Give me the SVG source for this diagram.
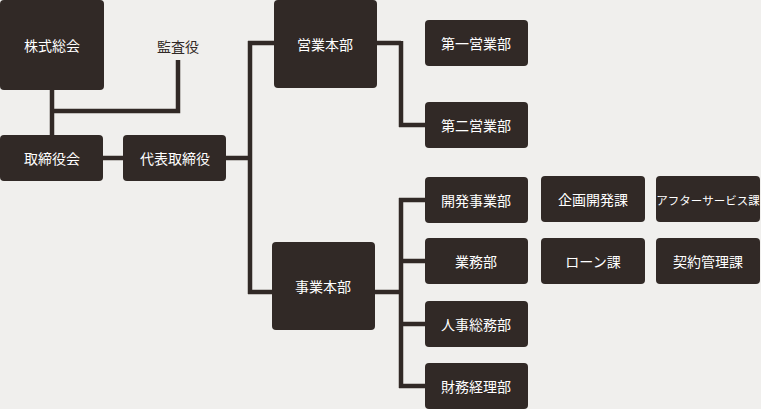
<svg xmlns="http://www.w3.org/2000/svg" width="761" height="409" viewBox="0 0 761 409">
<style>
.b{fill:#312926}
.t{fill:#fff;font-family:"Noto Sans CJK JP",sans-serif;font-size:14px;text-anchor:middle;dominant-baseline:central}
.c{stroke:#312926;stroke-width:4.5;fill:none}
</style>
<rect width="761" height="409" fill="#f0efed"/>
<g id="connectors" class="c">
<path d="M52 88V135M52 111H178V60M103 158H123M226 158H250M250 41V294M248 43H274M248 292H272M377 43H401M401 41V127M399 125H425M375 292H401M401 198V388M399 200H425M399 261H425M399 324H425M399 386H425"/>
</g>
<g id="n1"><rect class="b" x="0" y="0" width="104" height="90" rx="4"/><text class="t" x="52" y="45">株式総会</text></g>
<g id="n2"><text class="t" x="178" y="46" fill="#312926" style="fill:#312926">監査役</text></g>
<g id="n3"><rect class="b" x="0" y="135" width="103" height="46" rx="4"/><text class="t" x="52" y="158">取締役会</text></g>
<g id="n4"><rect class="b" x="123" y="135" width="103" height="46" rx="4"/><text class="t" x="175" y="158">代表取締役</text></g>
<g id="n5"><rect class="b" x="274" y="0" width="103" height="88" rx="4"/><text class="t" x="325" y="44">営業本部</text></g>
<g id="n6"><rect class="b" x="425" y="20" width="103" height="46" rx="4"/><text class="t" x="476" y="43">第一営業部</text></g>
<g id="n7"><rect class="b" x="425" y="102" width="103" height="46" rx="4"/><text class="t" x="476" y="125">第二営業部</text></g>
<g id="n8"><rect class="b" x="272" y="242" width="103" height="88" rx="4"/><text class="t" x="323" y="286">事業本部</text></g>
<g id="n9"><rect class="b" x="425" y="177" width="103" height="46" rx="4"/><text class="t" x="476" y="200">開発事業部</text></g>
<g id="n10"><rect class="b" x="425" y="238" width="103" height="46" rx="4"/><text class="t" x="476" y="261">業務部</text></g>
<g id="n11"><rect class="b" x="425" y="301" width="103" height="46" rx="4"/><text class="t" x="476" y="324">人事総務部</text></g>
<g id="n12"><rect class="b" x="425" y="363" width="103" height="46" rx="4"/><text class="t" x="476" y="386">財務経理部</text></g>
<g id="n13"><rect class="b" x="541" y="176" width="104" height="46" rx="4"/><text class="t" x="593" y="199">企画開発課</text></g>
<g id="n14"><rect class="b" x="656" y="176" width="104" height="46" rx="4"/><text class="t" x="708" y="200" style="font-size:11.5px">アフターサービス課</text></g>
<g id="n15"><rect class="b" x="541" y="238" width="104" height="46" rx="4"/><text class="t" x="593" y="261">ローン課</text></g>
<g id="n16"><rect class="b" x="656" y="238" width="104" height="46" rx="4"/><text class="t" x="708" y="261">契約管理課</text></g>
</svg>
